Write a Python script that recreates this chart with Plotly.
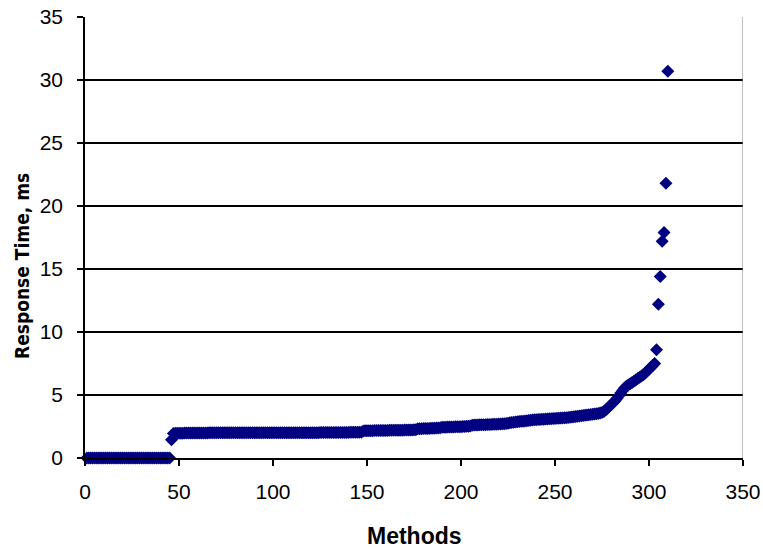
import plotly.graph_objects as go

# Response time (ms) per method, sorted ascending
zeros_block = [0, 0, 0, 0, 0, 0, 0, 0, 0, 0,
               0, 0, 0, 0, 0, 0, 0, 0, 0, 0,
               0, 0, 0, 0, 0, 0, 0, 0, 0, 0,
               0, 0, 0, 0, 0, 0, 0, 0, 0, 0,
               0, 0, 0, 0, 0]
step_block = [1.45]
flat_block = [1.95, 1.96, 1.96, 1.97, 1.97, 1.97, 1.98, 1.98, 1.98, 1.98,
              1.98, 1.98, 1.99, 1.99, 1.99, 1.99, 1.99, 1.99, 1.99, 2.00,
              2.00, 2.00, 2.00, 2.00, 2.00, 2.00, 2.00, 2.00, 2.00, 2.00,
              2.00, 2.00, 2.00, 2.00, 2.00, 2.00, 2.00, 2.00, 2.00, 2.00,
              2.00, 2.00, 2.00, 2.00, 2.00, 2.00, 2.00, 2.00, 2.00, 2.00,
              2.00, 2.00, 2.00, 2.00, 2.00, 2.00, 2.00, 2.00, 2.00, 2.00,
              2.00, 2.00, 2.00, 2.00, 2.00, 2.00, 2.00, 2.01, 2.01, 2.01,
              2.01, 2.01, 2.01, 2.01, 2.01, 2.01, 2.01, 2.01, 2.02, 2.02,
              2.02, 2.02, 2.02, 2.02, 2.02, 2.02, 2.02, 2.02, 2.03, 2.03,
              2.03, 2.03, 2.03, 2.03, 2.04, 2.04, 2.04, 2.05, 2.05, 2.05,
              2.05]
slow_rise_block = [2.15, 2.16, 2.16, 2.17, 2.17, 2.17, 2.18, 2.18, 2.18, 2.18,
                   2.19, 2.19, 2.19, 2.19, 2.20, 2.20, 2.20, 2.20, 2.20, 2.21,
                   2.21, 2.21, 2.22, 2.22, 2.22, 2.23, 2.23, 2.24, 2.25,
                   2.32, 2.33, 2.33, 2.34, 2.34, 2.35, 2.35, 2.36, 2.36, 2.37,
                   2.38, 2.39, 2.40,
                   2.44, 2.45, 2.45, 2.46, 2.46, 2.47, 2.47, 2.48, 2.48, 2.49,
                   2.49, 2.50, 2.50, 2.51, 2.52, 2.53,
                   2.60, 2.61, 2.62, 2.62, 2.63, 2.63, 2.64, 2.64, 2.65, 2.66,
                   2.66, 2.67, 2.68, 2.68, 2.69, 2.70, 2.71, 2.72, 2.73, 2.75,
                   2.80, 2.82, 2.84, 2.86, 2.88, 2.90, 2.91, 2.92, 2.94, 2.96,
                   2.98, 3.00,
                   3.02, 3.03, 3.04, 3.05, 3.06, 3.07, 3.08, 3.09, 3.10, 3.11,
                   3.12, 3.13, 3.14, 3.15, 3.16, 3.17, 3.18, 3.19, 3.20, 3.22,
                   3.24, 3.26, 3.28, 3.30, 3.32, 3.33, 3.35, 3.37,
                   3.40, 3.42, 3.44, 3.46, 3.48, 3.50, 3.52, 3.54, 3.57, 3.62]
knee_block = [3.70, 3.80, 3.95, 4.10, 4.25, 4.40, 4.55, 4.75, 4.95, 5.15,
              5.35, 5.55, 5.70, 5.80, 5.90, 6.00, 6.10, 6.20, 6.30, 6.40,
              6.50, 6.60, 6.75, 6.90, 7.05, 7.20, 7.35, 7.50]
outlier_block = [8.6, 12.2, 14.4, 17.2, 17.9, 21.8, 30.7]

response_ms = zeros_block + step_block + flat_block + slow_rise_block + knee_block + outlier_block
method_index = list(range(1, len(response_ms) + 1))

x_ticks = [0, 50, 100, 150, 200, 250, 300, 350]
y_ticks = [0, 5, 10, 15, 20, 25, 30, 35]

FONT = "Liberation Sans, Arial, sans-serif"

fig = go.Figure()
fig.add_trace(go.Scatter(
    x=method_index, y=response_ms, mode="markers",
    marker=dict(symbol="diamond", size=10, color="#000080", line=dict(width=0)),
    cliponaxis=False, showlegend=False,
))

fig.update_layout(
    width=763, height=549,
    margin=dict(l=85, r=20, t=17, b=91, autoexpand=False),
    paper_bgcolor="white", plot_bgcolor="white",
    font=dict(family=FONT, size=21, color="black"),
    showlegend=False,
)
fig.update_xaxes(
    range=[0, 350], tickvals=x_ticks, ticktext=[str(v) for v in x_ticks],
    showgrid=False, zeroline=False, showline=True, linecolor="black", linewidth=1.5,
    ticks="outside", ticklen=6, tickwidth=1.5, tickcolor="black",
    ticklabelstandoff=8, automargin=False,
    tickfont=dict(family=FONT, size=21),
)
fig.update_yaxes(
    range=[0, 35], tickvals=y_ticks, ticktext=[str(v) for v in y_ticks],
    showgrid=True, gridcolor="black", gridwidth=1.5,
    zeroline=False, showline=True, linecolor="black", linewidth=1.5,
    ticks="outside", ticklen=6, tickwidth=1.5, tickcolor="black",
    ticklabelstandoff=10, automargin=False,
    tickfont=dict(family=FONT, size=21),
)
# right plot-area border
fig.add_shape(type="line", xref="x", yref="y", x0=350, x1=350, y0=0, y1=35,
              line=dict(color="#808080", width=1))

fig.add_annotation(text="<b>Methods</b>", xref="paper", yref="paper",
                   x=0.5, y=-0.177, xanchor="center", yanchor="middle",
                   showarrow=False, font=dict(family=FONT, size=23))
fig.add_annotation(text="Response Time, ms", xref="paper", yref="paper",
                   x=-0.096, y=0.435, xanchor="center", yanchor="middle",
                   textangle=-90, showarrow=False,
                   font=dict(family="DejaVu Sans Condensed, Liberation Sans, sans-serif",
                             size=19, weight="bold"))

fig.write_html("out.html", config={"displayModeBar": False},
               post_script="document.body.style.margin='0';document.body.style.padding='0';")
